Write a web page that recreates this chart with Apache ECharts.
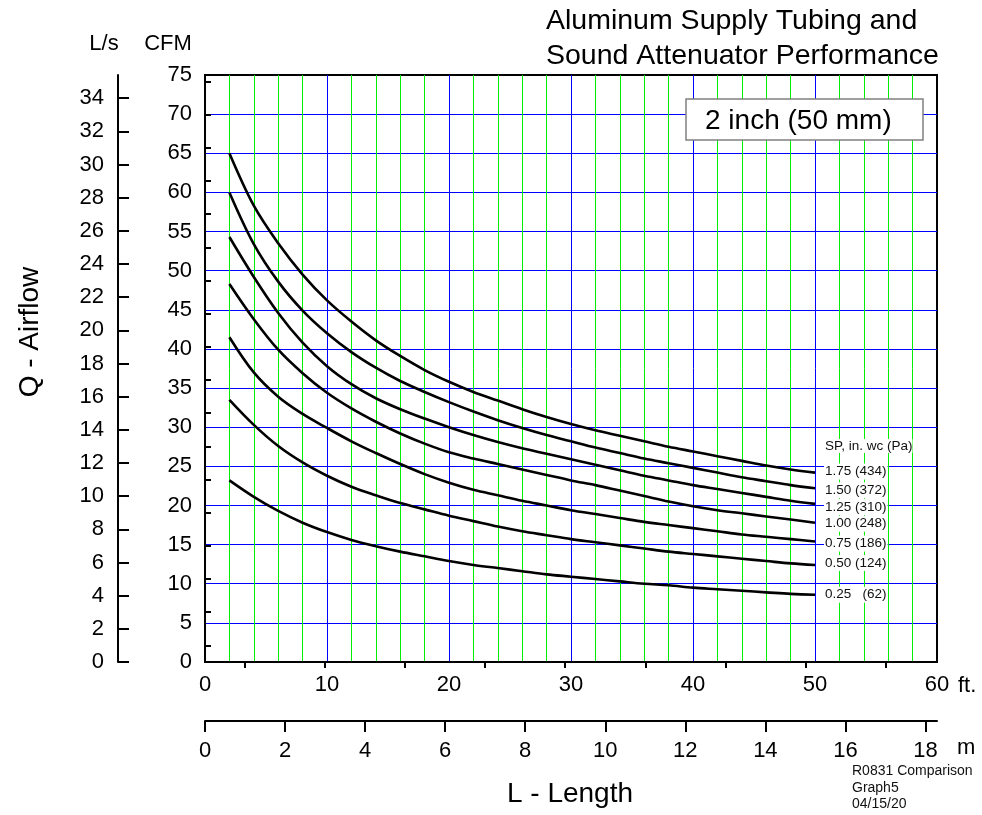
<!DOCTYPE html>
<html><head><meta charset="utf-8">
<script src="https://cdn.jsdelivr.net/npm/echarts@6/dist/echarts.min.js"></script>
<style>html,body{margin:0;padding:0;background:#fff}#c{width:982px;height:815px}</style>
</head><body><div id="c"></div>
<script>
// ---- data ----
const lengthsFt = [2,4,6,8,10,12,14,16,18,20,22,24,26,28,30,32,34,36,38,40,42,44,46,48,50];
const sp175 = [65.0,58.3,53.5,49.5,46.2,43.5,41.1,39.1,37.3,35.8,34.5,33.4,32.3,31.3,30.4,29.6,28.9,28.2,27.5,26.9,26.3,25.7,25.1,24.6,24.2];
const sp150 = [60.0,53.4,48.6,44.9,42.0,39.6,37.6,35.9,34.5,33.2,32.0,30.9,29.9,29.0,28.2,27.4,26.7,26.0,25.4,24.8,24.2,23.6,23.1,22.6,22.2];
const sp125 = [54.3,49.2,44.6,40.8,37.8,35.5,33.7,32.3,31.1,30.0,29.0,28.1,27.3,26.6,25.9,25.2,24.5,23.8,23.2,22.6,22.1,21.6,21.1,20.6,20.2];
const sp100 = [48.3,43.8,39.9,36.9,34.4,32.4,30.7,29.2,27.9,26.8,26.0,25.3,24.6,23.9,23.2,22.6,21.9,21.2,20.5,19.9,19.4,19.0,18.6,18.2,17.8];
const sp075 = [41.5,37.0,33.9,31.7,29.9,28.2,26.7,25.3,24.0,22.9,22.0,21.3,20.6,20.0,19.4,18.9,18.4,17.9,17.5,17.1,16.7,16.3,16.0,15.7,15.4];
const sp050 = [33.5,30.3,27.6,25.5,23.8,22.4,21.3,20.3,19.5,18.7,18.0,17.3,16.7,16.2,15.7,15.3,14.9,14.5,14.1,13.8,13.5,13.2,12.9,12.6,12.4];
const sp025 = [23.2,21.1,19.3,17.8,16.6,15.6,14.8,14.1,13.5,12.9,12.4,12.0,11.6,11.2,10.9,10.6,10.3,10.0,9.8,9.5,9.3,9.1,8.9,8.7,8.6];
const seriesNames = ['1.75 (434)','1.50 (372)','1.25 (310)','1.00 (248)','0.75 (186)','0.50 (124)','0.25   (62)'];
const seriesValues = [sp175, sp150, sp125, sp100, sp075, sp050, sp025];
const lpsMajorTicks = [0,2,4,6,8,10,12,14,16,18,20,22,24,26,28,30,32,34];
const lpsMinorTicks = [1,3,5,7,9,11,13,15,17,19,21,23,25,27,29,31,33,35];
const meterMajorTicks = [0,2,4,6,8,10,12,14,16,18];
const meterMinorTicks = [1,3,5,7,9,11,13,15,17];
const CFM_PER_LPS = 2.11888;
const FT_PER_M = 3.28084;
const CFM_MAX = 75, FT_MAX = 60;

// ---- style ----
const FF = "'Liberation Sans', Arial, Helvetica, sans-serif";
const BLUE = '#0000ff', GREEN = '#00ee00';
const labelNudges = [-1, 2, 3, 1, 2, -2, 0];

const chart = echarts.init(document.getElementById('c'), null, {renderer: 'canvas'});
const blackLine = {show: true, onZero: false, lineStyle: {color: '#000', width: 2}};
const tickLbl = {fontSize: 22, color: '#000', fontFamily: FF};

const series = seriesValues.map((vals, i) => ({
  type: 'line', name: seriesNames[i], xAxisIndex: 0, yAxisIndex: 0,
  data: lengthsFt.map((x, j) => [x, vals[j]]),
  showSymbol: false, symbol: 'none', smooth: 0.35,
  lineStyle: {color: '#000', width: 2.6},
  endLabel: {show: true, formatter: seriesNames[i], distance: 9, offset: [0, labelNudges[i]],
    fontSize: 13.5, color: '#111', fontFamily: FF, backgroundColor: '#fff', padding: [1, 1]},
  z: 5
}));

chart.setOption({
  animation: false,
  backgroundColor: '#fff',
  grid: {left: 205, right: 45, top: 75, bottom: 153, show: true, borderColor: '#000', borderWidth: 2, backgroundColor: 'transparent'},
  xAxis: [
    {type: 'value', min: 0, max: FT_MAX, interval: 10, position: 'bottom',
      axisLine: blackLine, axisTick: {show: false}, axisLabel: Object.assign({margin: 12}, tickLbl),
      splitLine: {show: true, showMinLine: false, showMaxLine: false, lineStyle: {color: BLUE, width: 1, opacity: 1}},
      minorTick: {show: false, splitNumber: 5},
      minorSplitLine: {show: true, lineStyle: {color: GREEN, width: 1, opacity: 1}}},
    {type: 'value', min: 0, max: FT_MAX / FT_PER_M, position: 'bottom', offset: 59,
      axisLine: blackLine,
      axisTick: {show: true, length: 11, customValues: meterMajorTicks, lineStyle: {color: '#000', width: 2}},
      axisLabel: Object.assign({margin: 19, customValues: meterMajorTicks}, tickLbl),
      splitLine: {show: false}, minorSplitLine: {show: false}},
    {type: 'value', min: 0, max: FT_MAX / FT_PER_M, position: 'bottom', offset: 59,
      axisLine: {show: false},
      axisTick: {show: true, length: 6, customValues: meterMinorTicks, lineStyle: {color: '#000', width: 2}},
      axisLabel: {show: false}, splitLine: {show: false}, minorSplitLine: {show: false}}
  ],
  yAxis: [
    {type: 'value', min: 0, max: CFM_MAX, interval: 5, position: 'left',
      axisLine: blackLine, axisTick: {show: false}, axisLabel: Object.assign({margin: 13}, tickLbl),
      splitLine: {show: true, showMinLine: false, showMaxLine: false, lineStyle: {color: BLUE, width: 1, opacity: 1}}},
    {type: 'value', min: 0, max: CFM_MAX / CFM_PER_LPS, position: 'left', offset: 87,
      axisLine: blackLine,
      axisTick: {show: true, inside: true, length: 11, customValues: lpsMajorTicks, lineStyle: {color: '#000', width: 2}},
      axisLabel: Object.assign({margin: 14, customValues: lpsMajorTicks}, tickLbl),
      splitLine: {show: false}, minorSplitLine: {show: false}},
    {type: 'value', min: 0, max: CFM_MAX / CFM_PER_LPS, position: 'left', offset: 87,
      axisLine: {show: false},
      axisTick: {show: true, inside: true, length: 6, customValues: lpsMinorTicks, lineStyle: {color: '#000', width: 2}},
      axisLabel: {show: false}, splitLine: {show: false}, minorSplitLine: {show: false}}
  ],
  graphic: [
    {type: 'text', z: 100, style: {x: 546, y: 21, text: 'Aluminum Supply Tubing and', font: '28.5px ' + FF, fill: '#000', verticalAlign: 'middle'}},
    {type: 'text', z: 100, style: {x: 546, y: 56, text: 'Sound Attenuator Performance', font: '28.5px ' + FF, fill: '#000', verticalAlign: 'middle'}},
    {type: 'text', z: 100, style: {x: 104, y: 44, text: 'L/s', font: '22px ' + FF, fill: '#000', align: 'center', verticalAlign: 'middle'}},
    {type: 'text', z: 100, style: {x: 168, y: 44, text: 'CFM', font: '22px ' + FF, fill: '#000', align: 'center', verticalAlign: 'middle'}},
    {type: 'rect', z: 100, shape: {x: 686, y: 99, width: 237, height: 41}, style: {fill: '#fff', stroke: '#808080', lineWidth: 1.5}},
    {type: 'text', z: 101, style: {x: 705, y: 121, text: '2 inch (50 mm)', font: '28px ' + FF, fill: '#000', verticalAlign: 'middle'}},
    {type: 'text', z: 100, style: {x: 825, y: 446, text: 'SP, in. wc (Pa)', font: '13.5px ' + FF, fill: '#111', verticalAlign: 'middle', backgroundColor: '#fff'}},
    {type: 'text', z: 100, style: {x: 958, y: 686, text: 'ft.', font: '22px ' + FF, fill: '#000', verticalAlign: 'middle'}},
    {type: 'text', z: 100, style: {x: 957, y: 748, text: 'm', font: '22px ' + FF, fill: '#000', verticalAlign: 'middle'}},
    {type: 'text', z: 100, style: {x: 570, y: 794, text: 'L - Length', font: '28px ' + FF, fill: '#000', align: 'center', verticalAlign: 'middle'}},
    {type: 'text', z: 100, rotation: Math.PI / 2, x: 30, y: 332, style: {x: 0, y: 0, text: 'Q - Airflow', font: '28px ' + FF, fill: '#000', align: 'center', verticalAlign: 'middle'}},
    {type: 'text', z: 100, style: {x: 852, y: 788, text: 'R0831 Comparison\nGraph5\n04/15/20', font: '14px ' + FF, lineHeight: 16.5, fill: '#111', verticalAlign: 'middle'}}
  ],
  series: series
});
</script>
</body></html>
